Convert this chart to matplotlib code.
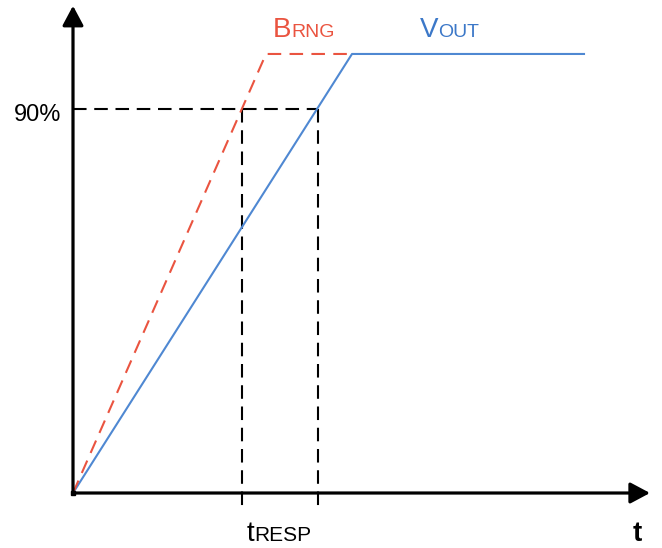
import matplotlib
matplotlib.use("Agg")
import matplotlib.pyplot as plt

plt.rcParams['font.family'] = ['Liberation Sans', 'DejaVu Sans']

# time axis (arbitrary units) and output level (% of final value)
brng_t = [0.0, 1.93, 2.79]
brng_y = [0.0, 102.9, 102.9]
vout_t = [0.0, 2.79, 5.11]
vout_y = [0.0, 102.9, 102.9]
level_90 = 90
t_brng_90 = 1.69
t_vout_90 = 2.45

x_tip = 5.77
y_tip = 114.2

RED = "#ea5440"
BLUE = "#4f88d2"
BLUE_TXT = "#3c78c8"

fig = plt.figure(figsize=(6.62, 5.48), dpi=100)
ax = fig.add_axes([0, 0, 1, 1])
ax.set_xlim(-0.73, 5.89)
ax.set_ylim(-12.89, 115.55)
ax.axis("off")

# axes with arrowheads
arrow = dict(arrowstyle="-|>,head_length=0.6,head_width=0.32", lw=2.3,
             color="black", shrinkA=0, shrinkB=0, mutation_scale=20)
ax.annotate("", xy=(x_tip, 0), xytext=(0, 0), arrowprops=arrow, zorder=6)
ax.annotate("", xy=(0, y_tip), xytext=(0, 0), arrowprops=arrow, zorder=6)
ax.plot([0], [0], marker="s", markersize=2.3, color="black", zorder=7)

# 90% guides
dash = (0, (6.5, 3.7))
ax.plot([0, t_vout_90], [level_90, level_90], color="black", lw=1.5, linestyle=dash)
for tt in (t_brng_90, t_vout_90):
    ax.plot([tt, tt], [level_90, -4.0], color="black", lw=1.5, linestyle=dash)

# curves
ax.plot(vout_t, vout_y, color=BLUE, lw=1.5, zorder=3)
ax.plot(brng_t, brng_y, color=RED, lw=1.5, linestyle=(0, (6.5, 4)), zorder=4)

ax.text(-0.12, 87.2, "90%", ha="right", va="baseline", fontsize=17)
ax.text(5.64, -11.3, "t", ha="center", va="baseline", fontsize=20, fontweight="bold")


def small_caps(x, y, big, small, size_big, size_small, color):
    t1 = ax.text(x, y, big, ha="left", va="baseline", fontsize=size_big, color=color)
    fig.canvas.draw()
    bb = t1.get_window_extent()
    x2 = ax.transData.inverted().transform((bb.x1, 0))[0]
    ax.text(x2, y, small, ha="left", va="baseline", fontsize=size_small, color=color)


small_caps(2.0, 106.9, "B", "RNG", 20, 14, RED)
small_caps(3.47, 106.9, "V", "OUT", 20, 14, BLUE_TXT)
small_caps(1.74, -11.2, "t", "RESP", 20, 15, "black")

fig.savefig("out.png", dpi=100)
